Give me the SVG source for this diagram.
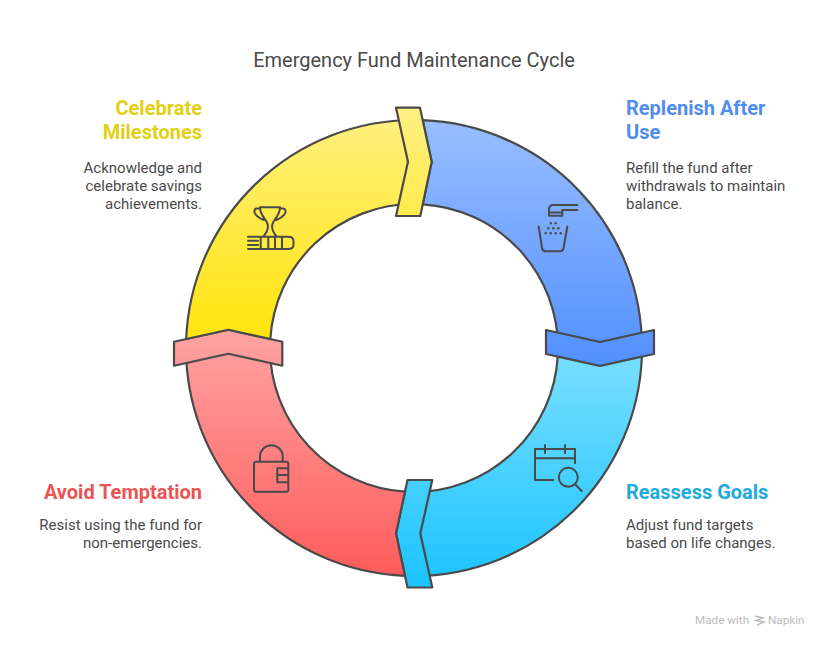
<svg xmlns="http://www.w3.org/2000/svg" width="828" height="648" viewBox="0 0 828 648">
<style>
text{font-family:Roboto,"Liberation Sans",sans-serif}
.title{font-size:20px;fill:#4a4a4a;text-anchor:middle}
.h{font-size:20px;font-weight:700}
.b{font-size:15px;fill:#4a4a4a}
.e{text-anchor:end}
.s{stroke:#4a4a4a;stroke-width:2.200;stroke-linejoin:round}
.i{fill:none;stroke:#4a4a4a;stroke-width:2;stroke-linecap:round;stroke-linejoin:round}
.d{fill:#4a4a4a}
.n{font-size:11.700px;fill:#bcbcbc}
</style>
<defs>
<linearGradient id="gy" gradientUnits="userSpaceOnUse" x1="0" y1="108" x2="0" y2="342"><stop offset="0" stop-color="#fff083"/><stop offset="1" stop-color="#ffe40a"/></linearGradient>
<linearGradient id="gb" gradientUnits="userSpaceOnUse" x1="0" y1="108" x2="0" y2="366"><stop offset="0" stop-color="#9cc0ff"/><stop offset="1" stop-color="#5190ff"/></linearGradient>
<linearGradient id="gc" gradientUnits="userSpaceOnUse" x1="0" y1="342" x2="0" y2="588"><stop offset="0" stop-color="#7de0ff"/><stop offset="1" stop-color="#1ac3ff"/></linearGradient>
<linearGradient id="gr" gradientUnits="userSpaceOnUse" x1="0" y1="330" x2="0" y2="576"><stop offset="0" stop-color="#ffa3a3"/><stop offset="1" stop-color="#ff5c5c"/></linearGradient>
</defs>
<text class="title" x="414" y="67">Emergency Fund Maintenance Cycle</text>
<g id="connectors"></g>
<g id="node-replenish">
<path class="s" fill="url(#gb)" d="M422.700 120.200A228 228 0 0 1 642 348L558 348A144 144 0 0 0 422.800 204.300L431.700 161.700Z"/>
<path class="s" fill="url(#gb)" d="M546 330L600 342L654 330V354L600 366L546 354Z"/>
<g class="i"><path d="M577.500 205H553.500Q549 205 549 209.500V215.700H562.300V210H577.500M549 212.500H562.300M538.700 226.500L542 248Q542.500 251.300 545.500 251.300H560Q563 251.300 563.600 248L567.300 226.500"/></g>
<g class="d"><circle cx="550.800" cy="223.300" r="1.200"/><circle cx="555.700" cy="223.300" r="1.200"/><circle cx="548.300" cy="228.300" r="1.200"/><circle cx="553.300" cy="228.300" r="1.200"/><circle cx="558.300" cy="228.300" r="1.200"/><circle cx="545.700" cy="233.300" r="1.200"/><circle cx="550.700" cy="233.300" r="1.200"/><circle cx="555.700" cy="233.300" r="1.200"/><circle cx="560.700" cy="233.300" r="1.200"/></g>
<text class="h" x="626" y="114.500" fill="#4f8df0">Replenish After</text><text class="h" x="626" y="138.500" fill="#4f8df0">Use</text>
<text class="b" x="626" y="172.500">Refill the fund after</text><text class="b" x="626" y="190.500">withdrawals to maintain</text><text class="b" x="626" y="208.500">balance.</text>
</g>
<g id="node-reassess">
<path class="s" fill="url(#gc)" d="M641.830 356.700A228 228 0 0 1 414 576L414 492A144 144 0 0 0 557.740 356.600L600 366Z"/>
<path class="s" fill="url(#gc)" d="M407.500 480H432.300L420.300 533.500L432.300 587.500H407.500L396 533.500Z"/>
<g class="i"><path d="M553.300 480H535V449H575V463.300M535 458.300H575M545 445V453M565 445V453M575 484.300L581.700 491"/><circle cx="568.300" cy="477.300" r="9.500"/></g>
<text class="h" x="626" y="498.500" fill="#1fa9dc">Reassess Goals</text>
<text class="b" x="626" y="530">Adjust fund targets</text><text class="b" x="626" y="548">based on life changes.</text>
</g>
<g id="node-avoid">
<path class="s" fill="url(#gr)" d="M404.900 575.800A228 228 0 0 1 186 348L270 348A144 144 0 0 0 404.900 491.700L396 533.500Z"/>
<path class="s" fill="url(#gr)" d="M174 341.700L228.300 329.700L282.300 341.700V365.700L228.300 353.700L174 365.700Z"/>
<g class="i"><path d="M256 461.700H286.300Q288.300 461.700 288.300 463.700V489.700Q288.300 491.700 286.300 491.700H256Q254 491.700 254 489.700V463.700Q254 461.700 256 461.700ZM260 461.700V456.500A11.300 11.300 0 0 1 282.700 456.500V461.700M288.300 468.300H277.300V482.300H288.300M277.300 475H288.300"/></g>
<text class="h e" x="202" y="498.500" fill="#ec5353">Avoid Temptation</text>
<text class="b e" x="202" y="530">Resist using the fund for</text><text class="b e" x="202" y="548">non-emergencies.</text>
</g>
<g id="node-celebrate">
<path class="s" fill="url(#gy)" d="M186.200 339A228 228 0 0 1 414 120L414 204A144 144 0 0 0 270.300 339L228.300 329.700Z"/>
<path class="s" fill="url(#gy)" d="M396 107.700H420L431.700 161.700L420.300 216H396L408 161.700Z"/>
<g class="i"><path d="M260 207.300H280C280 215 275 218 272.700 223.300C271.300 227 272.700 232 276.700 236.700M260 207.300C260 215 265 218 267.300 223.300C268.700 227 267.300 232 263.300 236.700M260 208.500H257C254 208.500 254 211.500 255 213.500C256.500 216 259 218 263.500 220M280 208.500H283C286 208.500 286 211.500 285 213.500C283.500 216 281 218 276.500 220M248 236.700H288Q293.500 236.700 293.500 241V245Q293.500 249 288 249H248M248 240.800H258M248 245H258M260.700 236.700V249M268.300 236.700V249M275 236.700V249M282 236.700V249"/></g>
<text class="h e" x="202" y="114.500" fill="#e3cf12">Celebrate</text><text class="h e" x="202" y="138.500" fill="#e3cf12">Milestones</text>
<text class="b e" x="202" y="172.500">Acknowledge and</text><text class="b e" x="202" y="190.500">celebrate savings</text><text class="b e" x="202" y="208.500">achievements.</text>
</g>
<g id="watermark">
<text class="n" x="695" y="624">Made with</text>
<path fill="none" stroke="#bcbcbc" stroke-width="1.500" d="M755 616L763 618L756 620.500L764 622L757 625"/>
<text class="n" x="768" y="624">Napkin</text>
</g>
</svg>
